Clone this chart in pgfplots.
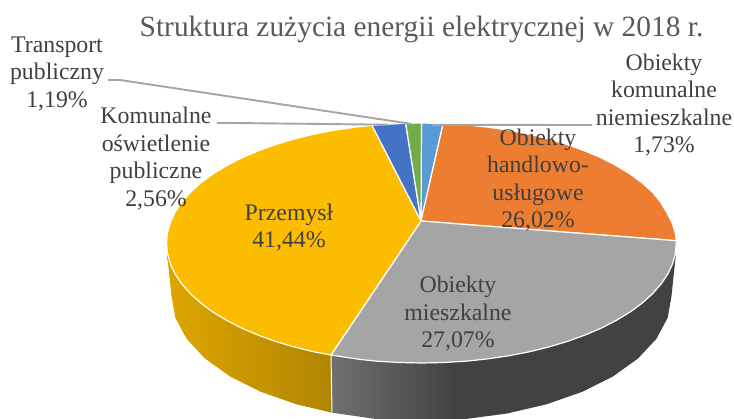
\documentclass[border=0pt]{standalone}
\usepackage{fontspec}
\setmainfont{Liberation Serif}
\usepackage{pgfplots}
\pgfplotsset{compat=1.18}
\definecolor{cYellow}{RGB}{252,188,0}
\definecolor{cOrange}{RGB}{237,125,49}
\definecolor{cGray}{RGB}{165,165,165}
\definecolor{cBlue}{RGB}{68,114,196}
\definecolor{cGreen}{RGB}{112,173,71}
\definecolor{cSky}{RGB}{91,155,213}
\definecolor{cLead}{RGB}{165,165,165}
\definecolor{cText}{RGB}{64,64,64}
\definecolor{cTitle}{RGB}{89,89,89}
\definecolor{wy1}{RGB}{222,166,0}
\definecolor{wy2}{RGB}{176,133,0}
\definecolor{wg1}{RGB}{112,112,112}
\definecolor{wg2}{RGB}{66,66,66}
% side wall shadings, the path's box runs from 25bp to 75bp
\pgfdeclarehorizontalshading{wallyellow}{100bp}{color(0bp)=(wy1); color(25bp)=(wy1); color(75bp)=(wy2); color(100bp)=(wy2)}
\pgfdeclarehorizontalshading{wallgray}{100bp}{color(0bp)=(wg1); color(25bp)=(wg1); color(43bp)=(wg2); color(100bp)=(wg2)}
\tikzset{lab/.style={text=cText,align=center,inner sep=0pt,
                font=\fontsize{23.8}{27.5}\selectfont}}

\begin{document}
\begin{tikzpicture}
\begin{axis}[
    scale only axis,
    width=734pt,
    height=418pt,
    xmin=0, xmax=734,
    ymin=0, ymax=418,
    y dir=reverse,
    hide axis,
    every axis plot/.append style={line join=round},
]

% page background, keeps the page at full size
\addplot[fill=white,draw=none] coordinates {(0,0) (734,0) (734,418) (0,418)};

% side walls
\addplot[shading=wallyellow,draw=none] coordinates {
    (167.5,253.5) (170.4,263.8) (175.2,274.1) (181.9,284) (190.4,293.7) (200.7,303)
    (212.6,311.8) (226.2,320.1) (241.2,327.9) (257.6,334.9) (275.2,341.3) (294,346.9)
    (313.7,351.8) (331,355) (332,412.7) (296.5,404.3) (260.8,391.8) (230,376.4)
    (205,358.5) (186.6,338.8) (175.3,317.7) (171.5,296) (167.5,258)
};
\addplot[shading=wallgray,draw=none] coordinates {
    (331,355) (359.8,359.4) (377.2,361.2) (399.3,362.5) (421.5,363) (443.7,362.5)
    (465.8,361.2) (487.5,358.9) (508.7,355.8) (529.3,351.8) (549,346.9) (567.8,341.3)
    (585.4,334.9) (601.8,327.9) (616.8,320.1) (630.4,311.8) (642.3,303) (652.6,293.7)
    (661.1,284) (667.8,274.1) (672.6,263.8) (675.5,253.5) (675.5,258) (671.5,296)
    (667.7,317.7) (656.4,338.8) (638,358.5) (613,376.4) (582.2,391.8) (546.5,404.3)
    (507,413.5) (464.9,419.1) (421.5,421) (376,419) (332,412.7)
};
\addplot[white,line width=1pt] coordinates {(331,355) (332,412.7)};

% top face slices
\addplot[fill=cSky,draw=white,line width=1.2pt] coordinates {
    (421,221) (421.5,123) (443.2,123.5) (421,221)
};
\addplot[fill=cOrange,draw=white,line width=1.2pt] coordinates {
    (421,221) (443.2,123.5) (465.8,124.8) (487.5,127.1) (508.7,130.2) (529.3,134.2) (549,139.1)
    (567.8,144.7) (585.4,151.1) (601.8,158.1) (616.8,165.9) (630.4,174.2) (642.3,183)
    (652.6,192.3) (660.5,202) (666.5,211.9) (671.8,222.2) (675.2,232.5) (676.3,240.7) (421,221)
};
\addplot[fill=cGray,draw=white,line width=1.2pt] coordinates {
    (421,221) (676.3,240.7) (675.5,253.5) (672.6,263.8) (667.8,274.1) (661.1,284) (652.6,293.7)
    (642.3,303) (630.4,311.8) (616.8,320.1) (601.8,327.9) (585.4,334.9) (567.8,341.3)
    (549,346.9) (529.3,351.8) (508.7,355.8) (487.5,358.9) (465.8,361.2) (443.7,362.5)
    (421.5,363) (399.3,362.5) (377.2,361.2) (359.8,359.4) (331,355) (421,221)
};
\addplot[fill=cYellow,draw=white,line width=1.2pt] coordinates {
    (421,221) (331,355) (313.7,351.8) (294,346.9) (275.2,341.3) (257.6,334.9) (241.2,327.9)
    (226.2,320.1) (212.6,311.8) (200.7,303) (190.4,293.7) (181.9,284) (175.2,274.1)
    (170.4,263.8) (167.5,253.5) (166.5,243) (167.5,232.5) (170.4,222.2) (175.2,211.9)
    (181.9,202) (190.4,192.3) (200.7,183) (212.6,174.2) (226.2,165.9) (241.2,158.1)
    (257.6,151.1) (275.2,144.7) (294,139.1) (313.7,134.2) (334.3,130.2) (355.5,127.1)
    (372,125.3) (421,221)
};
\addplot[fill=cBlue,draw=white,line width=1.2pt] coordinates {
    (421,221) (372,125.3) (388,124.2) (405.7,123.3) (421,221)
};
\addplot[fill=cGreen,draw=white,line width=1.2pt] coordinates {
    (421,221) (405.7,123.3) (421.5,123) (421,221)
};

% leader lines
\addplot[cLead,line width=1.9pt] coordinates {(108,80) (120,80) (412,124)};
\addplot[cLead,line width=1.9pt] coordinates {(217,122.8) (388,124.7)};
\addplot[cLead,line width=1.9pt] coordinates {(432,124.8) (592,125)};

% title and labels
\node[text=cTitle,inner sep=0pt,font=\fontsize{29.4}{32}\selectfont]
    at (axis cs:421.5,29) {Struktura zużycia energii elektrycznej w 2018 r.};
\node[lab] at (axis cs:57,74) {Transport\\publiczny\\1,19\%};
\node[lab] at (axis cs:156,158.5) {Komunalne\\oświetlenie\\publiczne\\2,56\%};
\node[lab] at (axis cs:664,105) {Obiekty\\komunalne\\niemieszkalne\\1,73\%};
\node[lab] at (axis cs:538,180) {Obiekty\\handlowo-\\usługowe\\26,02\%};
\node[lab] at (axis cs:289,227.5) {Przemysł\\41,44\%};
\node[lab] at (axis cs:458,314) {Obiekty\\mieszkalne\\27,07\%};

\end{axis}
\end{tikzpicture}
\end{document}
